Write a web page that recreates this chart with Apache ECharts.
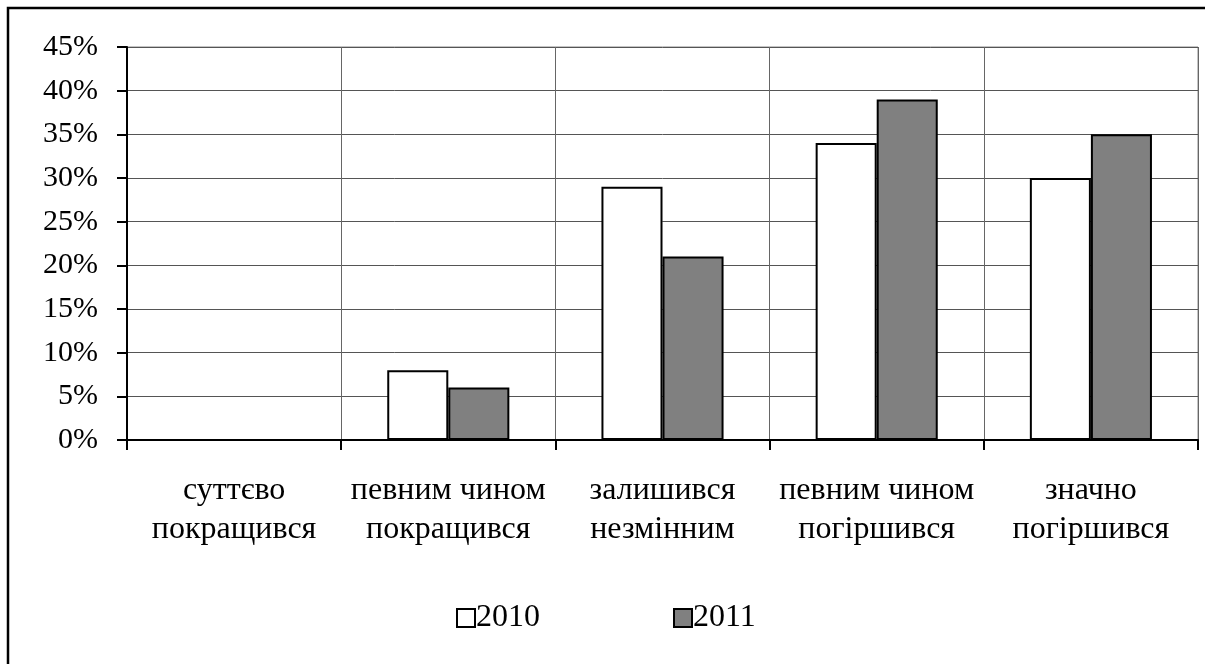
<!DOCTYPE html>
<html>
<head>
<meta charset="utf-8">
<script src="https://cdn.jsdelivr.net/npm/echarts@6/dist/echarts.min.js"></script>
<style>
html,body{margin:0;padding:0;background:#fff;}
#chart{width:1205px;height:664px;}
</style>
</head>
<body>
<div id="chart"></div>
<script>
const categories = ['суттєво\nпокращився', 'певним чином\nпокращився', 'залишився\nнезмінним', 'певним чином\nпогіршився', 'значно\nпогіршився'];
const seriesNames = ['2010', '2011'];
const values2010 = [0, 8, 29, 34, 30];
const values2011 = [0, 6, 21, 39, 35];
const yTicks = { min: 0, max: 45, interval: 5 };

const FONT = "'Liberation Serif', 'Times New Roman', serif";
const chart = echarts.init(document.getElementById('chart'), null, { renderer: 'canvas' });
chart.setOption({
  animation: false,
  backgroundColor: '#fff',
  textStyle: { fontFamily: FONT },
  graphic: [{
    type: 'rect',
    shape: { x: 8, y: 8, width: 1300, height: 800 },
    style: { fill: 'none', stroke: '#000', lineWidth: 2.5 },
    silent: true, z: -1
  }],
  grid: { left: 127, right: 7, top: 47, bottom: 224, containLabel: false,
    show: true, borderColor: '#888', borderWidth: 1 },
  legend: {
    left: 451, top: 597,
    itemWidth: 18, itemHeight: 18, itemGap: 133,
    icon: 'rect',
    textStyle: { fontFamily: FONT, fontSize: 32, color: '#000', padding: [0,0,0,-4] },
    itemStyle: { borderColor: '#000', borderWidth: 2 },
    data: seriesNames
  },
  xAxis: {
    type: 'category',
    data: categories,
    boundaryGap: true,
    axisLine: { show: true, lineStyle: { color: '#000', width: 2 } },
    axisTick: { show: true, length: 10, lineStyle: { color: '#000', width: 2 } },
    splitLine: { show: true, lineStyle: { color: '#666', width: 1 } },
    axisLabel: { color: '#000', fontFamily: FONT, fontSize: 32, lineHeight: 39, margin: 31, interval: 0 }
  },
  yAxis: {
    type: 'value',
    min: yTicks.min, max: yTicks.max, interval: yTicks.interval,
    axisLine: { show: true, lineStyle: { color: '#000', width: 2 } },
    axisTick: { show: true, length: 10, lineStyle: { color: '#000', width: 2 } },
    splitLine: { show: true, lineStyle: { color: '#555', width: 1 } },
    axisLabel: { color: '#000', fontFamily: FONT, fontSize: 30, margin: 29, formatter: '{value}%' }
  },
  series: [
    { name: seriesNames[0], type: 'bar', data: values2010, barGap: '0%', barCategoryGap: '43%',
      itemStyle: { color: '#fff', borderColor: '#000', borderWidth: 2 } },
    { name: seriesNames[1], type: 'bar', data: values2011, barGap: '0%', barCategoryGap: '43%',
      itemStyle: { color: '#808080', borderColor: '#000', borderWidth: 2 } }
  ]
});
</script>
</body>
</html>
